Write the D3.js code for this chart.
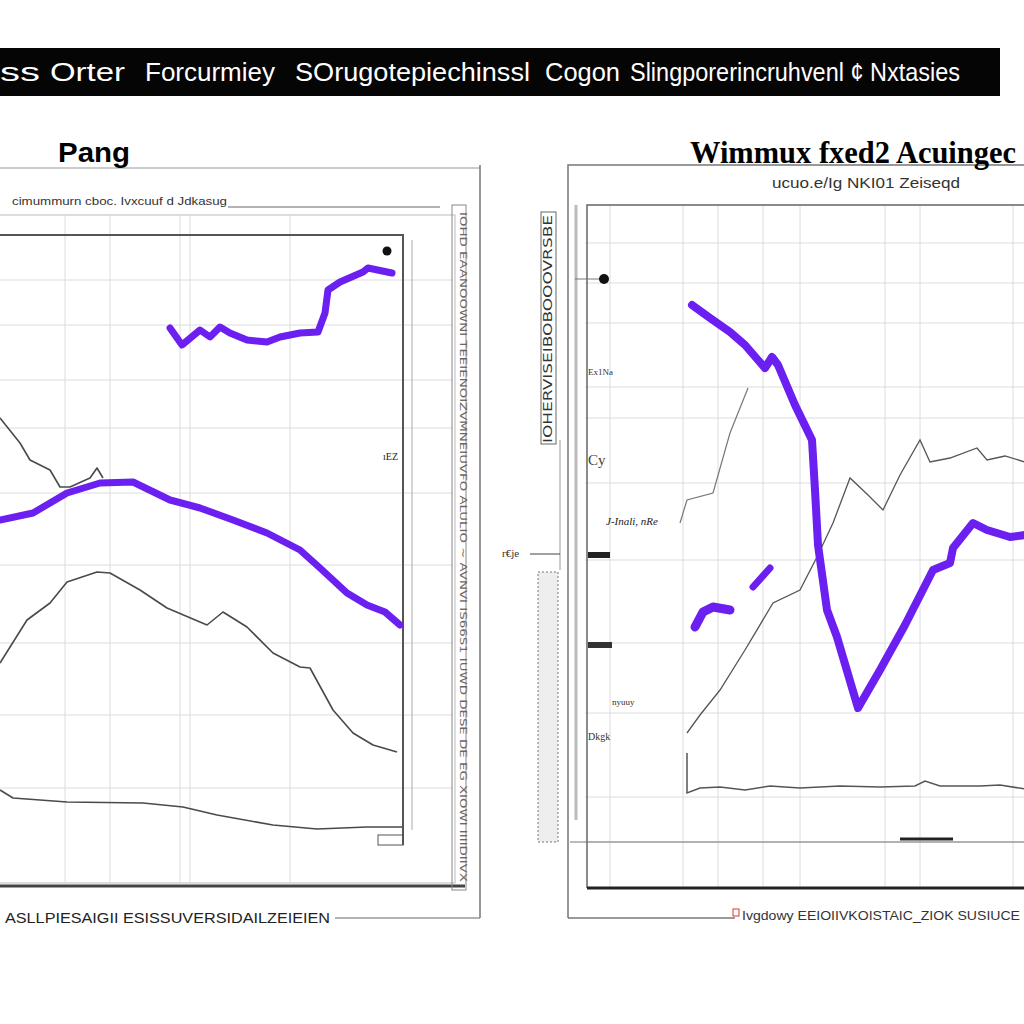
<!DOCTYPE html>
<html><head><meta charset="utf-8">
<script src="https://cdn.jsdelivr.net/npm/d3@7"></script>
<style>html,body{margin:0;padding:0;background:#fff;}svg{display:block;}</style>
</head><body>
<svg id="c" width="1024" height="1024"></svg>
<script>
// ---------- DATA ----------
const titleParts = ["ss", "Orter", "Forcurmiey", "SOrugotepiechinssl", "Cogon", "Slingporerincruhvenl ¢ Nxtasies"];
const leftTitle = "Pang";
const leftSubtitle = "cimummurn cboc. Ivxcuuf d Jdkasug";
const leftFooter = "ASLLPIESAIGII ESISSUVERSIDAILZEIEIEN";
const rightTitle = "Wimmux fxed2 Acuingec";
const rightSubtitle = "ucuo.e/Ig NKI01 Zeiseqd";
const rightFooter = "Ivgdowy EEIOIIVKOISTAIC_ZIOK SUSIUCE";
const rightSideLabel = "r€je";
const rightInnerLabel = "J-Inali, nRe";
const rightTickLabels = ["Ex1Na", "Cy", "nyuuy", "Dkgk"];
const leftRotLabel = "IOHD EAANOOWNI TEEIENOIZVMNEIUVFO ALULIO ~ AVNVI IS66S1 IUWD DESE DE EG XIOWI IIIIDIIVX";
const rightRotLabel = "IOHERVISEIBOBOOOVRSBE";

// left panel series (x in 0..40, y in 0..60)
const lpA_x = [17,18.2,20,21,22,23,24.7,26.7,28,30,31.8,32.5,32.8,34,36.3,36.8,39.2];
const lpA_y = [50.7,49,50.5,49.8,50.8,50.2,49.5,49.3,49.8,50.2,50.3,52.2,54.5,55.3,56.3,56.7,56.2];
const lpB_x = [0,3.3,6.7,10,13.3,17,20,23.3,26.7,30,32,34.7,36.7,38.5,40];
const lpB_y = [31.5,32.2,34.2,35.2,35.3,33.5,32.7,31.5,30.2,28.5,26.7,24.2,23,22.3,21];
const lgA_x = [0,2,3,5,6,7,9,9.7,10.3];
const lgA_y = [41.7,39.2,37.5,36.5,34.8,34.8,35.7,36.7,35.7];
const lgB_x = [0,2.7,5,6.7,9.7,11,14,16.7,20.7,22.3,24.7,27.3,30,31,33.3,35.3,37.3,39.7];
const lgB_y = [17.2,21.5,23.2,25.3,26.3,26.2,24.5,22.7,21,22.3,20.8,18.2,16.8,16.7,12.5,10.2,9,8.3];
const lgC_x = [0,1.3,6.7,14.3,18.3,21.7,27.3,31.7,36.7,40.2];
const lgC_y = [4.5,3.7,3.3,3.2,2.8,2,1,0.6,0.8,0.8];
const lDot = [38.7, 58.4];
const lGridX = [6.5,11,18,19,29];
const lGridY = [55.5,51,45.5,40.7,34.2,27,19.2,12,4.7];

// right panel series (x in 0..44, y in 0..68)
const rpA_x = [10.7,12.5,14.5,16,17.3,18,18.7,19.3,21,22.7,23,23.3,24.2,25.2,27.3,29.5,32,34.8,36.5,36.8,38.8,40.2,42.5,44];
const rpA_y = [58.3,57,55.6,54.3,52.8,52,53.1,52.3,48.3,44.8,39.8,34.3,27.8,25.1,18,21.8,26.3,31.8,32.5,34,36.5,35.8,35.1,35.3];
const rpB_x = [16.8,18.5];
const rpB_y = [30.1,32];
const rpC_x = [11,11.8,12.8,14.5];
const rpC_y = [26.1,27.6,28.1,27.8];
const rgA_x = [9.5,10.2,12.8,14.5,16.3];
const rgA_y = [36.5,38.8,39.5,45.5,50];
const rgB_x = [10.2,11.5,13.5,16,18.8,21.5,23.2,24.8,26.5,28.3,29.8,31.5,33.5,34.5,36.5,39.2,40.2,42,44];
const rgB_y = [15.5,17.3,19.8,23.8,28.5,29.8,33.1,36.5,41,39.3,37.8,41.3,44.8,42.6,43,44,42.8,43.2,42.6];
const rgC_x = [10.2,10.2,11.5,13.5,16,18.5,21.5,25.5,29.5,33,34,35.5,39.5,41.5,44];
const rgC_y = [13.5,9.5,10,10.1,9.8,10.2,10,10.2,10.1,10.2,10.7,10.2,10.2,10.3,9.9];
const rDot = [1.9, 60.9];
const rGridX = [2.5,9.8,13.3,17.8,21.5,30,33.5,42.8];
const rGridY = [64.5,60.5,56.5,50.1,47,40.5,32.8,24.5,17.5,9.1,4.6];
const rTickY = [51.3, 42.3, 33.3, 24.3, 18.3, 14.8];

// ---------- DRAW ----------
const svg = d3.select("#c");
const PURPLE = "#6b1ff0";
const zip = (xs, ys) => xs.map((x, i) => [x, ys[i]]);

// title bar
svg.append("rect").attr("x", 0).attr("y", 48).attr("width", 1000).attr("height", 48).attr("fill", "#050505");
const titleX = [0, 50, 145, 295, 545, 630];
const titleW = [40, 75, 130, 235, 75, 330];
titleParts.forEach((t, i) => {
  svg.append("text").attr("x", titleX[i]).attr("y", 81).attr("fill", "#fff")
    .attr("font-family", "Liberation Sans, Arial, sans-serif").attr("font-size", 26)
    .attr("textLength", titleW[i]).attr("lengthAdjust", "spacingAndGlyphs").text(t);
});

// ===== LEFT PANEL =====
const xL = d3.scaleLinear().domain([0, 40]).range([0, 400]);
const yL = d3.scaleLinear().domain([0, 60]).range([835, 235]);
const gL = svg.append("g");
// frames
gL.append("line").attr("x1", 0).attr("x2", 480).attr("y1", 168).attr("y2", 168).attr("stroke", "#999").attr("stroke-width", 1.2);
gL.append("line").attr("x1", 480).attr("x2", 480).attr("y1", 165).attr("y2", 918).attr("stroke", "#777").attr("stroke-width", 1.5);
gL.append("rect").attr("x", -2).attr("y", 215).attr("width", 457).attr("height", 668).attr("fill", "none").attr("stroke", "#bbb");
gL.append("line").attr("x1", 0).attr("x2", 465).attr("y1", 886).attr("y2", 886).attr("stroke", "#444").attr("stroke-width", 3);
// grid
gL.selectAll(".gx").data(lGridX).join("line").attr("x1", d => xL(d)).attr("x2", d => xL(d)).attr("y1", 215).attr("y2", 883).attr("stroke", "#dcdcdc");
gL.selectAll(".gy").data(lGridY).join("line").attr("x1", 0).attr("x2", 453).attr("y1", d => yL(d)).attr("y2", d => yL(d)).attr("stroke", "#dcdcdc");
// plot box
gL.append("path").attr("d", `M0,${yL(60)}H${xL(40.3)}V845`).attr("fill", "none").attr("stroke", "#555").attr("stroke-width", 2);
gL.append("line").attr("x1", 412).attr("x2", 412).attr("y1", 240).attr("y2", 830).attr("stroke", "#aaa");
gL.append("rect").attr("x", 378).attr("y", 835).attr("width", 25).attr("height", 10).attr("fill", "none").attr("stroke", "#555");
// right column with rotated text
gL.append("rect").attr("x", 452).attr("y", 205).attr("width", 14).attr("height", 685).attr("fill", "none").attr("stroke", "#888");
gL.append("text").attr("transform", "translate(460,212) rotate(90)").attr("font-size", 8).attr("fill", "#666")
  .attr("font-family", "DejaVu Sans").attr("textLength", 670).attr("lengthAdjust", "spacingAndGlyphs").text(leftRotLabel);
// titles
gL.append("text").attr("x", 58).attr("y", 162).attr("font-family", "Liberation Sans, Arial").attr("font-weight", "bold")
  .attr("font-size", 28).attr("textLength", 72).attr("lengthAdjust", "spacingAndGlyphs").text(leftTitle);
gL.append("text").attr("x", 12).attr("y", 205).attr("font-family", "Liberation Sans, Arial").attr("font-size", 11).attr("fill", "#333")
  .attr("textLength", 215).attr("lengthAdjust", "spacingAndGlyphs").text(leftSubtitle);
gL.append("line").attr("x1", 228).attr("x2", 440).attr("y1", 207).attr("y2", 207).attr("stroke", "#666");
gL.append("text").attr("x", 5).attr("y", 923).attr("font-family", "Liberation Sans, Arial").attr("font-size", 15).attr("fill", "#222")
  .attr("textLength", 325).attr("lengthAdjust", "spacingAndGlyphs").text(leftFooter);
gL.append("line").attr("x1", 335).attr("x2", 480).attr("y1", 918).attr("y2", 918).attr("stroke", "#666");
gL.append("text").attr("x", 383).attr("y", 460).attr("font-size", 10).attr("fill", "#222").text("ıEZ");
// lines
const lineL = d3.line().x(d => xL(d[0])).y(d => yL(d[1]));
[[lgA_x, lgA_y], [lgB_x, lgB_y], [lgC_x, lgC_y]].forEach(([xs, ys]) => {
  gL.append("path").attr("d", lineL(zip(xs, ys))).attr("fill", "none").attr("stroke", "#4a4a4a").attr("stroke-width", 1.6).attr("stroke-linejoin", "round");
});
[[lpA_x, lpA_y], [lpB_x, lpB_y]].forEach(([xs, ys]) => {
  gL.append("path").attr("d", lineL(zip(xs, ys))).attr("fill", "none").attr("stroke", PURPLE).attr("stroke-width", 7).attr("stroke-linejoin", "round").attr("stroke-linecap", "round");
});
gL.append("circle").attr("cx", xL(lDot[0])).attr("cy", yL(lDot[1])).attr("r", 4.5).attr("fill", "#111");

// ===== RIGHT PANEL =====
const xR = d3.scaleLinear().domain([0, 44]).range([585, 1025]);
const yR = d3.scaleLinear().domain([0, 68]).range([888, 208]);
const gR = svg.append("g");
gR.append("path").attr("d", "M568,918V165H1024").attr("fill", "none").attr("stroke", "#777").attr("stroke-width", 1.5);
gR.append("line").attr("x1", 568).attr("x2", 735).attr("y1", 918).attr("y2", 918).attr("stroke", "#777").attr("stroke-width", 1.5);
gR.append("line").attr("x1", 576).attr("x2", 576).attr("y1", 205).attr("y2", 820).attr("stroke", "#bbb").attr("stroke-width", 3);
// grid
gR.selectAll(".gx").data(rGridX).join("line").attr("x1", d => xR(d)).attr("x2", d => xR(d)).attr("y1", 205).attr("y2", 888).attr("stroke", "#dcdcdc");
gR.selectAll(".gy").data(rGridY).join("line").attr("x1", 585).attr("x2", 1024).attr("y1", d => yR(d)).attr("y2", d => yR(d)).attr("stroke", "#dcdcdc");
gR.append("path").attr("d", `M${xR(0.2)},${yR(0)}V${yR(68.3)}H1024`).attr("fill", "none").attr("stroke", "#666").attr("stroke-width", 1.5);
gR.append("line").attr("x1", xR(0.2)).attr("x2", 1024).attr("y1", yR(0)).attr("y2", yR(0)).attr("stroke", "#222").attr("stroke-width", 3);
gR.append("line").attr("x1", 570).attr("x2", 1024).attr("y1", 842).attr("y2", 842).attr("stroke", "#777");
gR.append("line").attr("x1", 900).attr("x2", 953).attr("y1", 839).attr("y2", 839).attr("stroke", "#222").attr("stroke-width", 3);
// titles
gR.append("text").attr("x", 690).attr("y", 163).attr("font-family", "Liberation Serif, serif").attr("font-weight", "bold")
  .attr("font-size", 31).attr("textLength", 326).attr("lengthAdjust", "spacingAndGlyphs").text(rightTitle);
gR.append("text").attr("x", 772).attr("y", 188).attr("font-family", "Liberation Sans, Arial").attr("font-size", 15).attr("fill", "#333")
  .attr("textLength", 188).attr("lengthAdjust", "spacingAndGlyphs").text(rightSubtitle);
gR.append("rect").attr("x", 733).attr("y", 909).attr("width", 6).attr("height", 7).attr("fill", "none").attr("stroke", "#d33");
gR.append("text").attr("x", 742).attr("y", 920).attr("font-family", "Liberation Sans, Arial").attr("font-size", 13).attr("fill", "#333")
  .attr("textLength", 278).attr("lengthAdjust", "spacingAndGlyphs").text(rightFooter);
// side column items
gR.append("rect").attr("x", 541).attr("y", 212).attr("width", 15).attr("height", 232).attr("fill", "none").attr("stroke", "#666");
gR.append("text").attr("transform", "translate(552,443) rotate(-90)").attr("font-size", 12).attr("fill", "#333")
  .attr("font-family", "DejaVu Sans").attr("textLength", 228).attr("lengthAdjust", "spacingAndGlyphs").text(rightRotLabel);
gR.append("rect").attr("x", 538).attr("y", 572).attr("width", 20).attr("height", 270).attr("fill", "#eee").attr("stroke", "#777").attr("stroke-dasharray", "2,2");
gR.append("line").attr("x1", 560).attr("x2", 560).attr("y1", 440).attr("y2", 570).attr("stroke", "#999");
gR.append("text").attr("x", 502).attr("y", 557).attr("font-size", 11).attr("fill", "#333").text(rightSideLabel);
gR.append("line").attr("x1", 530).attr("x2", 560).attr("y1", 554).attr("y2", 554).attr("stroke", "#444");
gR.append("text").attr("x", 606).attr("y", 525).attr("font-size", 11).attr("font-style", "italic").attr("fill", "#222").text(rightInnerLabel);
// tick labels on left
gR.append("text").attr("x", xR(0.3)).attr("y", yR(rTickY[0])).attr("font-size", 9).attr("fill", "#333").text(rightTickLabels[0]);
gR.append("text").attr("x", xR(0.3)).attr("y", yR(rTickY[1])).attr("font-size", 15).attr("fill", "#444").text(rightTickLabels[1]);
gR.append("rect").attr("x", xR(0.3)).attr("y", yR(rTickY[2]) - 3).attr("width", 22).attr("height", 6).attr("fill", "#222");
gR.append("rect").attr("x", xR(0.3)).attr("y", yR(rTickY[3]) - 3).attr("width", 24).attr("height", 6).attr("fill", "#333");
gR.append("text").attr("x", xR(2.7)).attr("y", yR(rTickY[4])).attr("font-size", 9).attr("fill", "#333").text(rightTickLabels[2]);
gR.append("text").attr("x", xR(0.3)).attr("y", yR(rTickY[5])).attr("font-size", 10).attr("fill", "#333").text(rightTickLabels[3]);
// lines
const lineR = d3.line().x(d => xR(d[0])).y(d => yR(d[1]));
gR.append("path").attr("d", lineR(zip(rgA_x, rgA_y))).attr("fill", "none").attr("stroke", "#777").attr("stroke-width", 1.2);
gR.append("path").attr("d", lineR(zip(rgB_x, rgB_y))).attr("fill", "none").attr("stroke", "#555").attr("stroke-width", 1.3);
gR.append("path").attr("d", lineR(zip(rgC_x, rgC_y))).attr("fill", "none").attr("stroke", "#555").attr("stroke-width", 1.5);
[[rpA_x, rpA_y, 8], [rpB_x, rpB_y, 7], [rpC_x, rpC_y, 9]].forEach(([xs, ys, w]) => {
  gR.append("path").attr("d", lineR(zip(xs, ys))).attr("fill", "none").attr("stroke", PURPLE).attr("stroke-width", w).attr("stroke-linejoin", "round").attr("stroke-linecap", "round");
});
gR.append("line").attr("x1", 575).attr("x2", xR(rDot[0])).attr("y1", yR(rDot[1])).attr("y2", yR(rDot[1])).attr("stroke", "#777");
gR.append("circle").attr("cx", xR(rDot[0])).attr("cy", yR(rDot[1])).attr("r", 5).attr("fill", "#111");
</script>
</body></html>
